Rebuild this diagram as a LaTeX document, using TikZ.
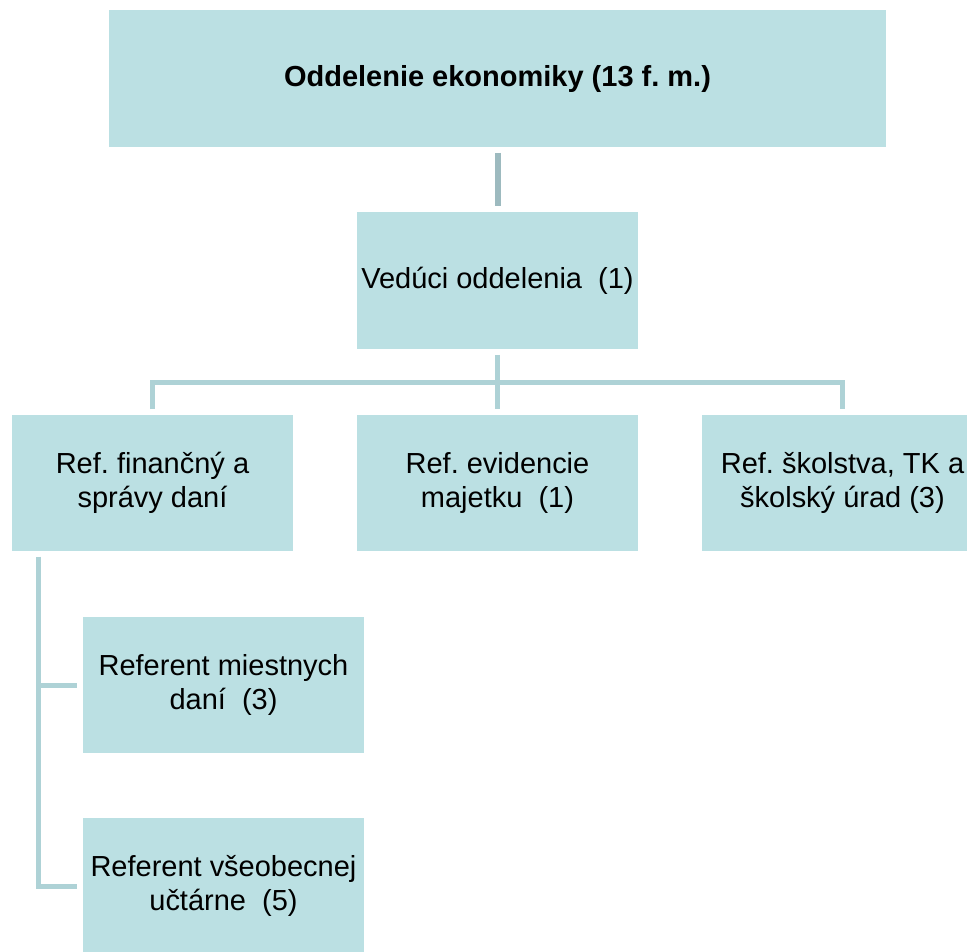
\documentclass[tikz,border=0pt]{standalone}
\usepackage{fontspec}
\setmainfont{Liberation Sans}
\usetikzlibrary{positioning,calc}

\definecolor{boxfill}{HTML}{BBE0E3}
\definecolor{linkcol}{HTML}{AED2D6}
\definecolor{topcol}{HTML}{9DBABF}

\tikzset{
    unit/.style={fill=boxfill,inner sep=0pt,align=center,minimum width=5.62cm,minimum height=2.72cm,
        font=\fontsize{16.5}{19.5}\selectfont\frenchspacing},
    link/.style={draw=linkcol,line width=0.1cm,shorten <=0.11cm,shorten >=0.11cm}
}

\begin{document}
\begin{tikzpicture}[x=0.02cm,y=-0.02cm]
            \clip (0,0) rectangle (967,951);
            \fill[white] (0,0) rectangle (967,951);

            \coordinate (bus) at (497.5,382);
            \foreach \i/\x in {1/152.5,2/497.5,3/842.5}
                \coordinate (R\i) at (\x,483);

            \node[unit,minimum width=15.54cm,minimum height=2.74cm,font=\fontsize{16.5}{19.5}\selectfont\bfseries\frenchspacing] (odd) at (497.5,78.5) {Oddelenie ekonomiky (13 f. m.)};
            \node[unit,minimum height=2.74cm] (ved) at (497.5,280.5) {Vedúci oddelenia\ \ (1)};

            \node[unit] (fin) at (R1) {Ref. finančný a\\správy daní};
            \node[unit] (maj) at (R2) {Ref. evidencie\\majetku\ \ (1)};
            \node[unit] (sko) at (R3) {Ref. školstva, TK a\\školský úrad (3)};

            \node[unit] (dan) at (223.5,685) {Referent miestnych\\daní\ \ (3)};
            \node[unit] (uct) at (223.5,886) {Referent všeobecnej\\učtárne\ \ (5)};

            \draw[link,draw=topcol,line width=0.12cm] (odd) -- (ved);
            \draw[link] (ved) -- (maj);
            \draw[link] (fin) |- (bus) -| (sko);
            \draw[link] ([xshift=0.54cm]fin.south west) |- (dan.west);
            \draw[link] ([xshift=0.54cm]fin.south west) |- (uct.west);
        \end{tikzpicture}
\end{document}
